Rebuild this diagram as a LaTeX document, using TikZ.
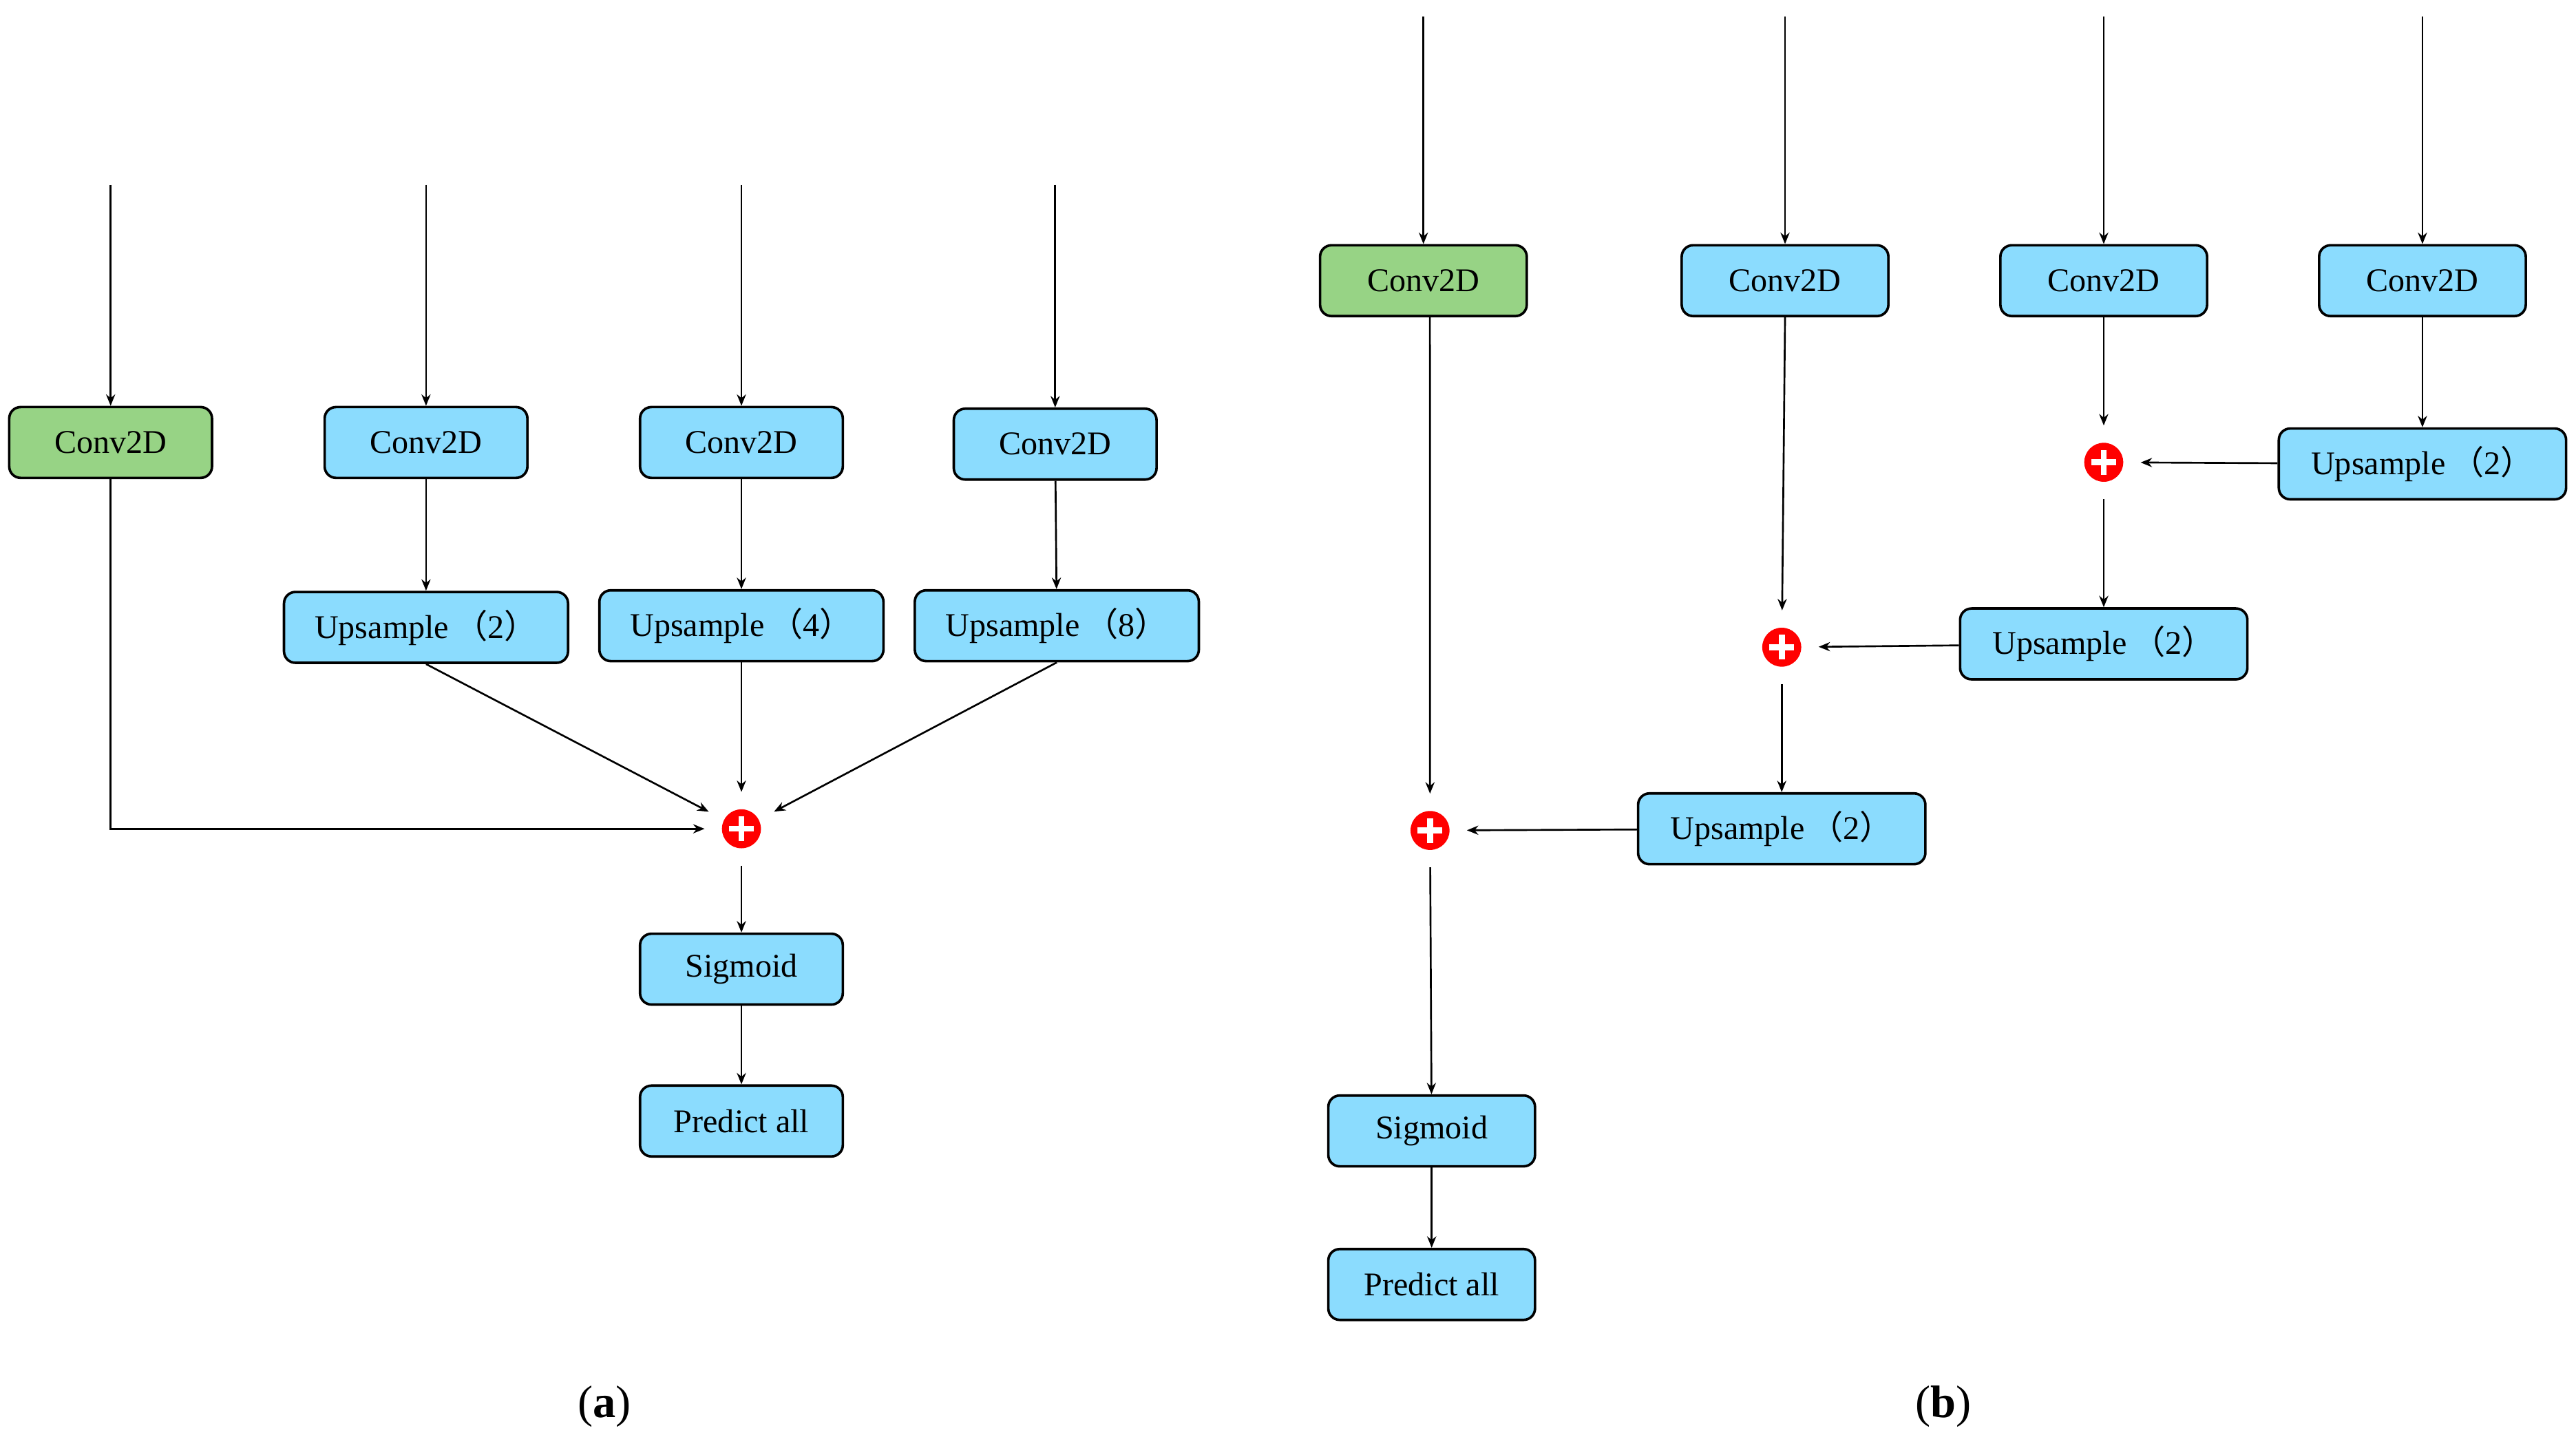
\documentclass[tikz,border=0pt]{standalone}
\usepackage{fontspec}
\setmainfont{Liberation Serif}
\newfontfamily\cjk{Noto Sans CJK SC}
\usetikzlibrary{arrows.meta}
\definecolor{bblue}{HTML}{8BDCFE}
\definecolor{bgreen}{HTML}{97D385}
\newcommand{\fwp}[1]{{\cjk （}#1{\cjk ）}}
\begin{document}
\begin{tikzpicture}[x=0.0254cm,y=-0.0254cm,
  box/.style={draw=black,line width=1.1pt,rounded corners=5pt,fill=bblue,minimum height=1.09cm,inner sep=0pt,font=\fontsize{14.5}{16}\selectfont},
  cw/.style={minimum width=3.12cm},
  cwb/.style={minimum width=3.18cm},
  uw/.style={minimum width=4.37cm},
  uwb/.style={minimum width=4.42cm},
  green/.style={fill=bgreen},
  plusn/.style={circle,minimum size=1.12cm,inner sep=0pt,path picture={
     \fill[red] (path picture bounding box.center) circle (0.3cm);
     \draw[white,line width=2.6pt] ([xshift=-0.19cm]path picture bounding box.center) -- ([xshift=0.19cm]path picture bounding box.center);
     \draw[white,line width=2.6pt] ([yshift=-0.19cm]path picture bounding box.center) -- ([yshift=0.19cm]path picture bounding box.center);}},
  arr/.style={draw,line width=0.8pt,-{Stealth[length=5pt,width=4pt]}},
  lab/.style={font=\fontsize{20}{24}\selectfont}
]
\useasboundingbox (0,0) rectangle (1560,881);
% (a)
\node[box,cw,green] (a1) at (67,268) {Conv2D};
\node[box,cw] (a2) at (258,268) {Conv2D};
\node[box,cw] (a3) at (449,268) {Conv2D};
\node[box,cw] (a4) at (639,269) {Conv2D};
\node[box,uw] (au2) at (258,380) {Upsample\,\fwp{2}};
\node[box,uw] (au4) at (449,379) {Upsample\,\fwp{4}};
\node[box,uw] (au8) at (640,379) {Upsample\,\fwp{8}};
\node[plusn] (ap) at (449,502) {};
\node[box,cw] (as) at (449,587) {Sigmoid};
\node[box,cw] (apr) at (449,679) {Predict all};
\coordinate (ai1) at (67,112);
\coordinate (ai2) at (258,112);
\coordinate (ai3) at (449,112);
\coordinate (ai4) at (639,112);
\coordinate (ac) at (67,502);
\draw[arr] (ai1) -- (a1);
\draw[arr] (ai2) -- (a2);
\draw[arr] (ai3) -- (a3);
\draw[arr] (ai4) -- (a4);
\draw[arr] (a2) -- (au2);
\draw[arr] (a3) -- (au4);
\draw[arr] (a4) -- (au8);
\draw[arr] (a1) -- (ac) -- (ap);
\draw[arr] (au2.south) -- (ap);
\draw[arr] (au4) -- (ap);
\draw[arr] (au8.south) -- (ap);
\draw[arr] (ap) -- (as);
\draw[arr] (as) -- (apr);
\node[lab] (la) at (366,852) {(\textbf{a})};
% (b)
\node[box,cwb,green] (b1) at (862,170) {Conv2D};
\node[box,cwb] (b2) at (1081,170) {Conv2D};
\node[box,cwb] (b3) at (1274,170) {Conv2D};
\node[box,cwb] (b4) at (1467,170) {Conv2D};
\node[plusn] (bp3) at (1274,280) {};
\node[box,uwb] (bu3) at (1467,281) {Upsample\,\fwp{2}};
\node[box,uwb] (bu2) at (1274,390) {Upsample\,\fwp{2}};
\node[plusn] (bp2) at (1079,392) {};
\node[box,uwb] (bu1) at (1079,502) {Upsample\,\fwp{2}};
\node[plusn] (bp1) at (866,503) {};
\node[box,cwb] (bs) at (867,685) {Sigmoid};
\node[box,cwb] (bpr) at (867,778) {Predict all};
\coordinate (bi1) at (862,10);
\coordinate (bi2) at (1081,10);
\coordinate (bi3) at (1274,10);
\coordinate (bi4) at (1467,10);
\draw[arr] (bi1) -- (b1);
\draw[arr] (bi2) -- (b2);
\draw[arr] (bi3) -- (b3);
\draw[arr] (bi4) -- (b4);
\draw[arr] (b4) -- (bu3);
\draw[arr] (b3) -- (bp3);
\draw[arr] (bu3) -- (bp3);
\draw[arr] (bp3) -- (bu2);
\draw[arr] (b2.south) -- (bp2);
\draw[arr] (bu2) -- (bp2);
\draw[arr] (bp2) -- (bu1);
\draw[arr] ([xshift=0.1cm]b1.south) -- (bp1);
\draw[arr] (bu1) -- (bp1);
\draw[arr] (bp1) -- (bs);
\draw[arr] (bs) -- (bpr);
\node[lab] (lb) at (1177,852) {(\textbf{b})};
\end{tikzpicture}
\end{document}
